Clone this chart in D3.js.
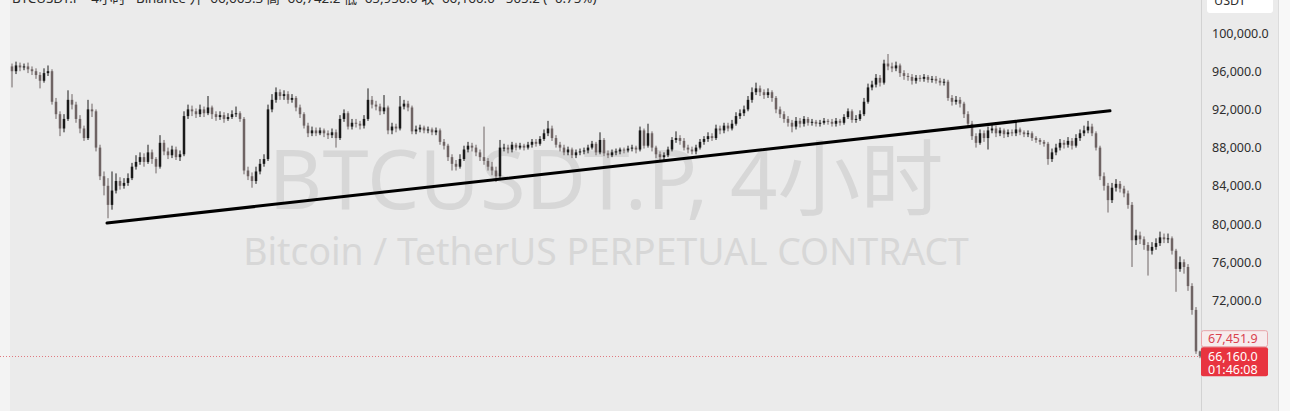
<!DOCTYPE html>
<html><head><meta charset="utf-8">
<script src="https://cdn.jsdelivr.net/npm/d3@7"></script>
<style>html,body{margin:0;padding:0;background:#fff;overflow:hidden}svg{display:block}</style>
</head><body>
<svg id="c" width="1290" height="411"></svg>
<script>
// ---- data (prices in thousands of USDT, 4h candles) ----
const firstOpen = 96.5;
const closes = [
96.0,96.6,96.4,96.5,96.2,96.0,95.6,95.0,95.8,96.0,
92.8,91.5,90.0,91.0,93.0,92.5,91.0,90.0,89.0,92.0,
91.8,88.0,85.0,84.0,82.0,83.5,84.5,84.0,84.3,84.8,
86.0,86.5,87.0,86.5,87.5,86.8,86.0,88.5,87.6,87.2,
87.8,87.0,87.3,91.3,92.0,91.8,91.5,92.0,91.6,92.2,
91.5,91.2,91.4,91.0,91.2,91.5,91.6,91.0,85.6,85.0,
84.5,85.5,86.3,86.8,92.0,93.0,93.8,93.4,93.6,93.0,
93.2,92.2,91.5,90.3,89.5,89.8,89.5,89.8,89.5,89.3,
89.6,89.0,91.0,91.6,90.2,90.6,90.5,90.3,91.0,93.0,
92.5,92.3,91.8,92.2,89.8,90.2,90.0,92.3,92.6,92.2,
89.7,89.9,90.1,89.8,89.9,89.6,89.8,88.6,88.2,87.0,
86.3,86.0,86.8,87.8,88.2,88.0,87.5,87.0,86.6,86.0,
85.6,85.0,88.0,88.0,87.8,88.3,88.0,88.2,88.0,88.3,
88.6,88.4,88.9,89.5,90.0,89.0,88.3,88.0,87.5,87.8,
87.2,87.5,87.6,87.7,88.0,88.4,87.5,88.8,87.4,87.2,
87.5,87.6,87.8,87.7,87.9,88.0,87.8,89.8,88.2,89.5,
88.0,87.3,87.0,87.2,87.8,88.8,89.0,88.7,88.0,87.8,
87.6,88.0,88.6,88.9,89.2,89.0,90.0,89.8,90.3,90.0,
90.5,91.3,91.6,92.0,93.0,93.8,94.2,93.8,93.5,93.8,
93.2,92.0,91.5,91.0,90.6,90.2,90.8,90.5,91.0,90.6,
90.7,90.5,90.6,90.8,90.7,90.5,90.8,90.6,91.2,91.8,
90.9,91.0,91.5,92.8,94.3,94.6,95.3,94.8,96.8,96.5,
96.3,96.6,95.8,95.5,95.4,95.0,95.3,95.2,95.4,95.1,
95.2,95.0,94.8,94.9,93.2,92.8,93.0,92.6,91.5,90.5,
89.2,88.5,89.5,89.0,89.8,90.0,89.5,89.8,89.4,89.6,
89.5,89.9,89.6,89.4,89.5,89.0,88.8,88.6,88.4,86.8,
87.5,88.0,88.5,88.3,88.7,88.2,89.0,89.5,89.8,90.2,
89.5,88.0,85.0,84.0,82.5,83.8,84.2,83.7,83.2,82.0,
78.3,78.8,78.4,77.8,77.2,77.6,78.0,78.6,78.4,78.5,
77.2,75.3,76.0,75.5,73.5,71.0,66.665,66.16
];
const highs = [
96.8,97.0,96.9,96.8,96.9,96.5,96.3,95.9,96.3,96.6,
96.2,93.2,91.8,91.5,94.0,93.6,92.8,91.4,90.3,93.0,
92.6,92.0,88.3,85.5,84.8,85.5,85.3,84.9,84.8,85.3,
86.4,87.2,87.5,87.4,88.3,87.8,87.0,89.3,88.8,88.0,
88.2,88.1,87.7,91.8,92.5,92.4,92.1,92.5,92.3,93.4,
92.4,91.8,91.8,91.7,91.6,91.9,92.3,91.8,91.2,86.0,
85.4,86.0,86.8,87.3,92.5,93.6,94.3,94.1,94.0,93.9,
93.6,93.4,92.5,91.7,90.6,90.2,90.1,90.1,90.0,89.8,
90.0,89.9,91.4,92.0,91.8,91.0,91.0,90.8,91.4,94.2,
93.4,92.9,92.6,93.5,92.4,90.6,90.5,93.4,93.0,92.9,
92.4,90.3,90.4,90.3,90.2,90.1,90.1,90.0,88.9,88.4,
87.3,86.7,87.3,88.2,88.6,88.5,88.3,87.8,90.2,86.9,
86.5,86.0,88.8,88.4,88.3,88.6,88.5,88.5,88.4,88.6,
88.9,88.9,89.2,89.9,90.8,90.3,89.3,88.6,88.3,88.1,
88.0,87.8,87.9,88.0,88.3,88.7,88.6,89.6,89.0,87.7,
87.8,87.9,88.0,88.0,88.2,88.3,88.2,90.2,90.0,90.5,
89.7,88.2,87.6,87.5,88.1,89.1,89.7,89.3,89.0,88.3,
88.1,88.3,88.9,89.2,89.6,89.5,90.4,90.3,90.6,90.6,
90.9,91.7,92.0,92.4,93.4,94.3,94.8,94.5,94.1,94.2,
94.0,93.4,92.3,91.8,91.3,90.9,91.2,91.1,91.3,91.2,
91.0,90.9,90.9,91.1,91.0,91.0,91.1,91.0,91.5,92.1,
92.0,91.4,91.9,93.2,94.7,95.0,95.7,95.6,97.2,97.8,
96.9,97.0,96.8,96.1,95.8,95.7,95.6,95.6,95.7,95.6,
95.5,95.5,95.3,95.2,95.1,93.5,93.4,93.3,92.8,91.8,
90.8,89.5,89.9,89.8,90.2,90.4,90.3,90.1,90.0,89.9,
89.9,90.6,90.1,89.8,89.8,89.7,89.2,89.0,88.8,88.6,
87.9,88.4,88.9,88.8,89.1,89.0,89.4,89.9,90.3,90.8,
90.5,89.7,88.2,85.4,84.3,84.3,84.7,84.5,84.0,83.5,
82.3,79.4,79.2,78.7,78.1,78.1,78.5,79.2,79.0,79.0,
78.7,77.4,76.6,76.3,75.8,73.8,71.3,66.742
];
const lows = [
94.3,95.7,96.0,96.1,95.8,95.6,95.2,94.2,94.8,95.5,
92.5,91.0,89.2,89.6,90.8,92.0,90.6,89.5,88.7,88.8,
91.2,87.6,84.6,83.0,80.6,81.5,83.2,83.6,83.7,84.0,
84.6,85.7,86.2,86.0,86.3,86.3,85.3,85.8,87.2,86.8,
86.9,86.7,86.6,87.1,91.0,91.3,91.1,91.2,91.2,91.4,
91.0,90.8,90.9,90.6,90.8,91.0,91.2,90.7,85.2,84.6,
83.8,84.2,85.2,86.0,86.6,91.7,92.7,93.0,93.0,92.6,
92.7,91.8,91.1,90.0,89.1,89.2,89.2,89.3,89.1,88.9,
89.0,88.0,88.8,90.7,89.9,89.9,90.1,89.9,90.0,90.8,
92.1,91.9,91.4,91.5,89.4,89.4,89.6,89.8,92.0,91.8,
89.4,89.4,89.6,89.5,89.5,89.3,89.3,88.3,87.8,86.6,
85.6,85.6,85.8,86.6,87.5,87.6,87.1,86.6,86.2,85.6,
85.1,84.4,84.6,87.6,87.4,87.5,87.7,87.8,87.7,87.8,
88.0,88.1,88.2,88.7,89.2,88.7,88.0,87.6,87.2,87.2,
86.9,86.9,87.2,87.3,87.4,87.8,87.2,87.3,87.1,86.9,
87.0,87.2,87.3,87.4,87.5,87.6,87.4,87.6,87.9,88.0,
87.6,86.9,86.7,86.7,87.0,87.6,88.5,88.3,87.7,87.4,
87.3,87.3,87.8,88.3,88.6,88.7,88.8,89.4,89.5,89.7,
89.8,90.3,91.0,91.3,91.8,92.7,93.5,93.4,93.1,93.2,
92.8,91.6,91.1,90.6,90.2,89.6,89.9,90.1,90.2,90.3,
90.3,90.2,90.2,90.4,90.4,90.2,90.2,90.3,90.4,91.0,
90.6,90.6,90.8,91.3,92.6,94.0,94.3,94.4,94.6,96.1,
95.9,96.0,95.4,95.1,95.0,94.6,94.7,94.9,94.9,94.8,
94.8,94.7,94.5,94.5,92.9,92.4,92.5,92.2,91.1,90.1,
88.8,88.0,88.3,88.6,87.8,89.5,89.1,89.2,89.0,89.1,
89.2,89.2,89.3,89.1,89.1,88.7,88.5,88.3,88.1,86.2,
86.5,87.2,87.7,87.9,88.0,87.8,88.0,88.7,89.2,89.5,
89.2,87.7,84.6,83.5,81.2,82.2,83.4,83.3,82.8,81.6,
75.5,77.8,77.9,77.3,74.6,76.8,77.3,77.7,78.0,78.0,
76.8,72.9,75.0,74.8,73.0,70.5,66.4,65.95
];
const priceTicks = [60,72,76,80,84,88,92,96,100];
const trendPoints = [{i:23.75, v:80.1}, {i:274.5, v:91.85}];
const lastPrice = 66.16;
const markPrice = 67.4519;
const countdown = "01:46:08";
const unitLabel = "USDT";
const headerText = "BTCUSDT.P · 4小时 · Binance  开=66,665.3  高=66,742.2  低=65,950.0  收=66,160.0  −505.2 (−0.75%)";
const watermarkTitle = "BTCUSDT.P, 4小时";
const watermarkSub = "Bitcoin / TetherUS PERPETUAL CONTRACT";

// ---- drawing ----
const W = 1290, H = 411;
const FONT = "'Noto Sans','Noto Sans CJK SC',sans-serif";
const svg = d3.select("#c");
const opens = [firstOpen].concat(closes.slice(0, -1));
const candles = closes.map((c, i) => ({i, o: opens[i], c, h: highs[i], l: lows[i]}));

const x = d3.scaleLinear().domain([0, closes.length - 1]).range([12, 1200]);
const y = d3.scaleLinear().domain([100, 60]).range([33, 415]);

svg.append("rect").attr("width", W).attr("height", H).attr("fill", "#ebebeb");
svg.append("rect").attr("x", 0).attr("width", 10).attr("height", H).attr("fill", "#f3f3f3");
svg.append("rect").attr("x", 1279).attr("width", 11).attr("height", H).attr("fill", "#f8f8f8");
svg.append("line").attr("x1", 1201.5).attr("x2", 1201.5).attr("y1", 0).attr("y2", H)
  .attr("stroke", "#d2d2d2").attr("stroke-width", 1);
svg.append("line").attr("x1", 1278.5).attr("x2", 1278.5).attr("y1", 0).attr("y2", H)
  .attr("stroke", "#dcdcdc").attr("stroke-width", 1);

// watermark
function fitText(sel, target) {
  const w = sel.node().getComputedTextLength();
  const fs = parseFloat(sel.attr("font-size"));
  sel.attr("font-size", fs * target / w);
}
const wm1 = svg.append("text").attr("x", 606).attr("y", 209).attr("text-anchor", "middle")
  .attr("font-family", FONT).attr("font-size", 84).attr("fill", "#d7d7d7").text(watermarkTitle);
fitText(wm1, 675);
const wm2 = svg.append("text").attr("x", 606).attr("y", 265).attr("text-anchor", "middle")
  .attr("font-family", FONT).attr("font-size", 38).attr("fill", "#d7d7d7").text(watermarkSub);
fitText(wm2, 726);

// last price dotted line
svg.append("line").attr("x1", 0).attr("x2", 1201).attr("y1", Math.round(y(lastPrice)) + 0.5).attr("y2", Math.round(y(lastPrice)) + 0.5)
  .attr("stroke", "#e07a80").attr("stroke-width", 1).attr("stroke-dasharray", "1,2");

// candles
const upCol = "#1a1a1a", downCol = "#6f6464";
const g = svg.append("g");
g.selectAll("line.wick").data(candles).join("line").attr("class", "wick")
  .attr("x1", d => x(d.i)).attr("x2", d => x(d.i))
  .attr("y1", d => y(d.h)).attr("y2", d => y(d.l))
  .attr("stroke", d => d.c >= d.o ? upCol : downCol).attr("stroke-width", 1);
g.selectAll("rect.body").data(candles).join("rect").attr("class", "body")
  .attr("x", d => x(d.i) - 1.25).attr("width", 2.5)
  .attr("y", d => y(Math.max(d.o, d.c)))
  .attr("height", d => Math.max(1, y(Math.min(d.o, d.c)) - y(Math.max(d.o, d.c))))
  .attr("fill", d => d.c >= d.o ? upCol : downCol);

// trend line
svg.append("line")
  .attr("x1", x(trendPoints[0].i)).attr("y1", y(trendPoints[0].v))
  .attr("x2", x(trendPoints[1].i)).attr("y2", y(trendPoints[1].v))
  .attr("stroke", "#000").attr("stroke-width", 3).attr("stroke-linecap", "round");

// price axis
const fmt = d3.format(",.1f");
const axis = d3.axisRight(y).tickValues(priceTicks).tickSize(0).tickPadding(0)
  .tickFormat(d => fmt(d * 1000));
const ag = svg.append("g").attr("transform", "translate(1212,0)").call(axis);
ag.select(".domain").remove();
ag.selectAll("text").attr("font-family", FONT).attr("font-size", 12.5).attr("fill", "#2e2e2e");

// unit box
svg.append("rect").attr("x", 1207).attr("y", -6).attr("width", 66).attr("height", 19).attr("rx", 3).attr("fill", "#fff");
svg.append("text").attr("x", 1214).attr("y", 5).attr("font-family", FONT).attr("font-size", 12.5)
  .attr("fill", "#2e2e2e").text(unitLabel);

// price labels
const ly = y(lastPrice);
svg.append("rect").attr("x", 1201.5).attr("y", ly - 25.5).attr("width", 66).attr("height", 16).attr("rx", 2)
  .attr("fill", "#f6eced").attr("stroke", "#e9a5aa");
svg.append("text").attr("x", 1208).attr("y", ly - 13).attr("font-family", FONT).attr("font-size", 12.5)
  .attr("fill", "#d9434f").text(fmt(markPrice * 1000));
svg.append("rect").attr("x", 1201).attr("y", ly - 9).attr("width", 67).attr("height", 29).attr("rx", 2)
  .attr("fill", "#e83440");
svg.append("text").attr("x", 1208).attr("y", ly + 4.5).attr("font-family", FONT).attr("font-size", 12.5)
  .attr("fill", "#fff").text(fmt(lastPrice * 1000));
svg.append("text").attr("x", 1208).attr("y", ly + 17.5).attr("font-family", FONT).attr("font-size", 12.5)
  .attr("fill", "#fff").text(countdown);

// header (cut off at top edge)
const hd = svg.append("text").attr("x", 12).attr("y", 3).attr("font-family", FONT).attr("font-size", 13)
  .attr("fill", "#2a2a2a").text(headerText);
fitText(hd, 585);
</script>
</body></html>
